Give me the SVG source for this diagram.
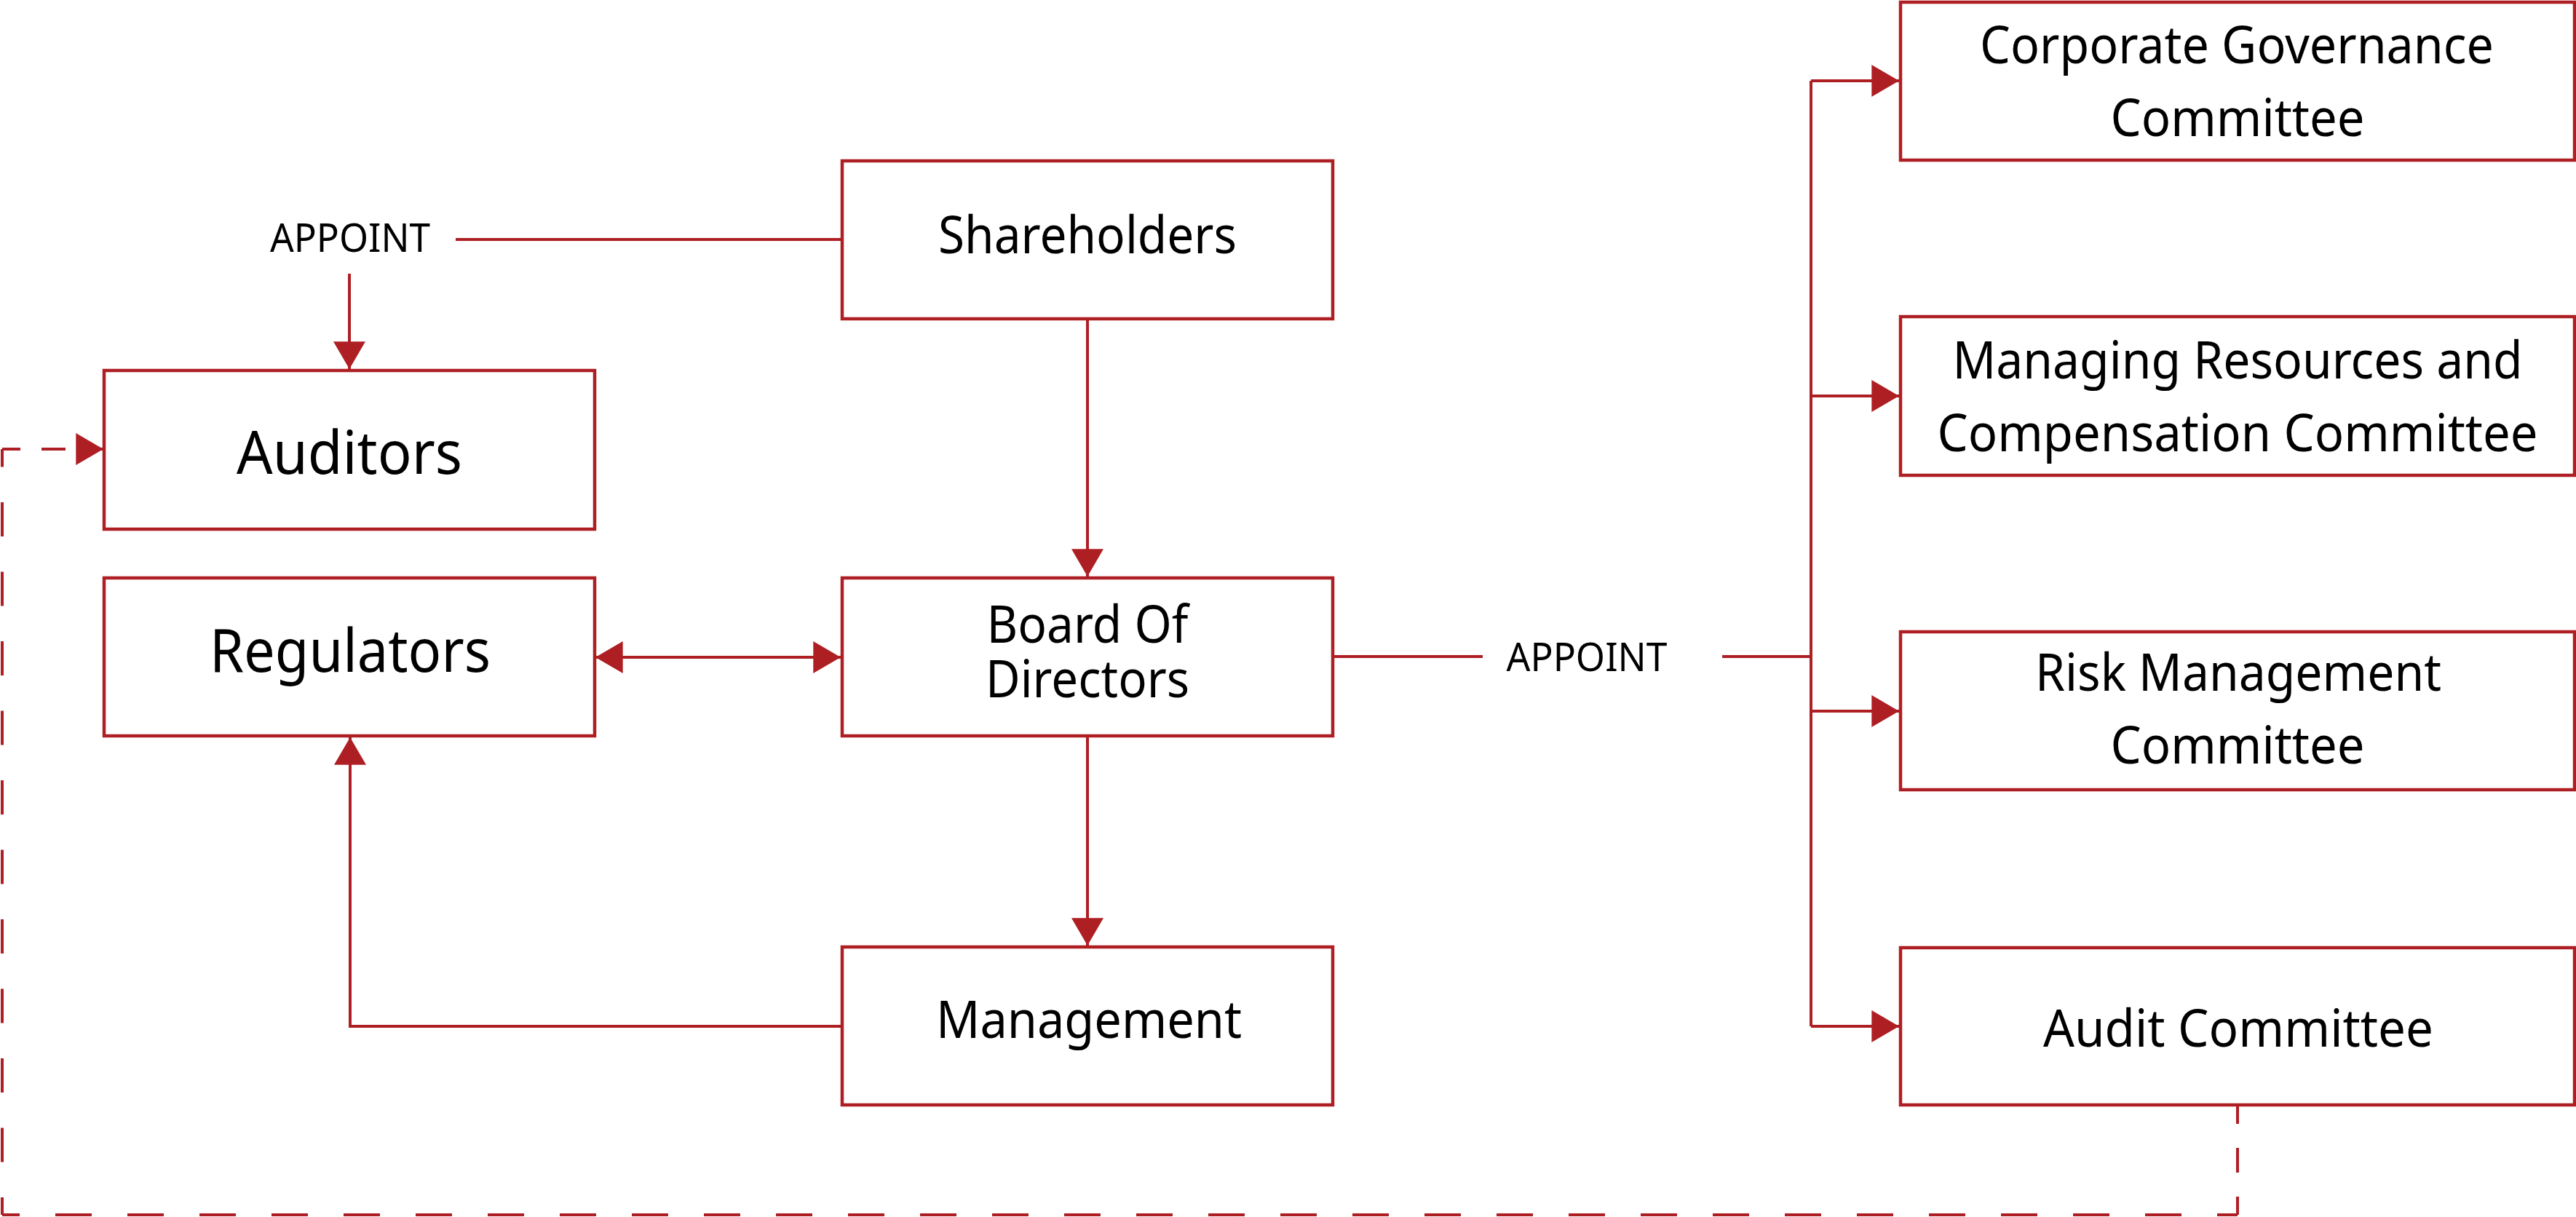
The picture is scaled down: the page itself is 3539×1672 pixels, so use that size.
<svg xmlns="http://www.w3.org/2000/svg" width="3539" height="1672" viewBox="0 0 3539 1672">
<defs>
<style>
.box{fill:#fff;stroke:#AE1F24;stroke-width:4.5}
.ln{fill:none;stroke:#AE1F24;stroke-width:4}
.dash{fill:none;stroke:#AE1F24;stroke-width:4}
.t{font-family:"Noto Sans","Liberation Sans",sans-serif;fill:#000;text-anchor:middle}
.m{font-size:72px}
.l{font-size:83px}
.s{font-size:55px}
</style>
<marker id="ah" markerUnits="userSpaceOnUse" markerWidth="40" markerHeight="44" refX="36" refY="21" orient="auto-start-reverse" viewBox="0 0 36 42">
<path d="M0,0 L36,21 L0,42 Z" fill="#AE1F24"/>
</marker>
</defs>
<rect width="3539" height="1672" fill="#fff"/>

<g id="connectors">
<path class="ln" d="M1157,329 H626"/>
<path class="ln" d="M480,376 V507" marker-end="url(#ah)"/>
<path class="ln" d="M1494,438 V792" marker-end="url(#ah)"/>
<path class="ln" d="M818,903 H1155" marker-start="url(#ah)" marker-end="url(#ah)"/>
<path class="ln" d="M1494,1011 V1299" marker-end="url(#ah)"/>
<path class="ln" d="M1157,1410 H481 V1013" marker-end="url(#ah)"/>
<path class="ln" d="M1831,902 H2037"/>
<path class="ln" d="M2366,902 H2488"/>
<path class="ln" d="M2488,111 V1410"/>
<path class="ln" d="M2488,111 H2609" marker-end="url(#ah)"/>
<path class="ln" d="M2488,544 H2609" marker-end="url(#ah)"/>
<path class="ln" d="M2488,977 H2609" marker-end="url(#ah)"/>
<path class="ln" d="M2488,1410 H2609" marker-end="url(#ah)"/>
<path class="dash" d="M3074,1510 V1669" stroke-dasharray="34 33"/>
<path class="dash" d="M3,1669 H3074" stroke-dasharray="50 49" stroke-dashoffset="26"/>
<path class="dash" d="M3,1669 V617" stroke-dasharray="47 48.5" stroke-dashoffset="23"/>
<path class="dash" d="M3,617 H90" stroke-dasharray="25 29 33 60"/>
<path class="ln" d="M108,617 H142" marker-end="url(#ah)"/>
<text class="t s" x="481" y="346" textLength="220" lengthAdjust="spacingAndGlyphs">APPOINT</text>
<text class="t s" x="2180" y="922" textLength="221" lengthAdjust="spacingAndGlyphs">APPOINT</text>
</g>

<g id="shareholders">
<rect class="box" x="1157" y="221" width="674" height="217"/>
<text class="t m" x="1494" y="348" textLength="410" lengthAdjust="spacingAndGlyphs">Shareholders</text>
</g>
<g id="board">
<rect class="box" x="1157" y="794" width="674" height="217"/>
<text class="t m" x="1494" y="883" textLength="277" lengthAdjust="spacingAndGlyphs">Board Of</text>
<text class="t m" x="1494" y="958" textLength="280" lengthAdjust="spacingAndGlyphs">Directors</text>
</g>
<g id="management">
<rect class="box" x="1157" y="1301" width="674" height="217"/>
<text class="t m" x="1496" y="1426" textLength="420" lengthAdjust="spacingAndGlyphs">Management</text>
</g>
<g id="auditors">
<rect class="box" x="143" y="509" width="674" height="218"/>
<text class="t l" x="480" y="651" textLength="310" lengthAdjust="spacingAndGlyphs">Auditors</text>
</g>
<g id="regulators">
<rect class="box" x="143" y="794" width="674" height="217"/>
<text class="t l" x="481" y="923" textLength="386" lengthAdjust="spacingAndGlyphs">Regulators</text>
</g>
<g id="corporate-governance">
<rect class="box" x="2611" y="3" width="926" height="217"/>
<text class="t m" x="3073" y="87" textLength="706" lengthAdjust="spacingAndGlyphs">Corporate Governance</text>
<text class="t m" x="3074" y="187" textLength="349" lengthAdjust="spacingAndGlyphs">Committee</text>
</g>
<g id="managing-resources">
<rect class="box" x="2611" y="435" width="926" height="218"/>
<text class="t m" x="3074" y="520" textLength="783" lengthAdjust="spacingAndGlyphs">Managing Resources and</text>
<text class="t m" x="3074" y="620" textLength="825" lengthAdjust="spacingAndGlyphs">Compensation Committee</text>
</g>
<g id="risk-management">
<rect class="box" x="2611" y="868" width="926" height="217"/>
<text class="t m" x="3075" y="949" textLength="558" lengthAdjust="spacingAndGlyphs">Risk Management</text>
<text class="t m" x="3074" y="1049" textLength="349" lengthAdjust="spacingAndGlyphs">Committee</text>
</g>
<g id="audit-committee">
<rect class="box" x="2611" y="1302" width="926" height="216"/>
<text class="t m" x="3075" y="1438" textLength="536" lengthAdjust="spacingAndGlyphs">Audit Committee</text>
</g>
</svg>
